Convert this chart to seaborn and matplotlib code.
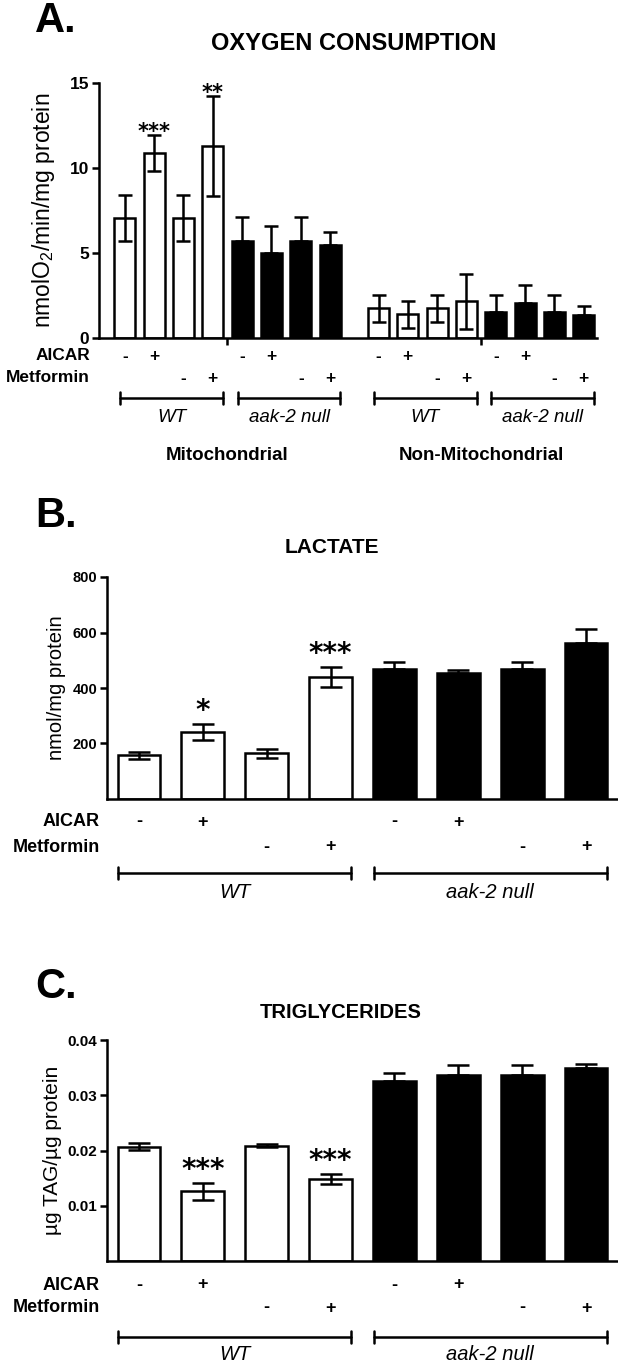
"""
plot.py
-------
Oxygen consumption, lactate and triglycerides in WT vs aak-2 null worms
treated with AICAR / Metformin. Saves out.png.
"""

import numpy as np
import pandas as pd
import matplotlib
matplotlib.use("Agg")
import matplotlib.pyplot as plt
import matplotlib.transforms as mtransforms
import seaborn as sns

sns.set_style("ticks")
plt.rcParams["font.family"] = ["Liberation Sans", "DejaVu Sans"]
plt.rcParams["mathtext.fontset"] = "custom"
plt.rcParams["mathtext.rm"] = "Liberation Sans"
plt.rcParams["mathtext.default"] = "regular"
for key in ["text.color", "axes.labelcolor", "axes.edgecolor",
            "xtick.color", "ytick.color"]:
    plt.rcParams[key] = "black"

# ---------- data ----------
genotypes = ["WT", "aak-2 null"]
aicar_signs = ["-", "+", "", ""]
metformin_signs = ["", "", "-", "+"]

# A. oxygen consumption (nmol O2/min/mg protein)
mito_wt_mean = [7.05, 10.9, 7.05, 11.3]
mito_wt_sem = [1.35, 1.05, 1.35, 2.95]
mito_aak_mean = [5.7, 5.0, 5.7, 5.5]
mito_aak_sem = [1.4, 1.6, 1.4, 0.75]
nonmito_wt_mean = [1.75, 1.4, 1.75, 2.15]
nonmito_wt_sem = [0.8, 0.8, 0.8, 1.6]
nonmito_aak_mean = [1.55, 2.05, 1.55, 1.35]
nonmito_aak_sem = [1.0, 1.05, 1.0, 0.55]
oxygen_stars = {1: "***", 3: "**"}

# B. lactate (nmol/mg protein)
lactate_wt_mean = [157, 242, 165, 440]
lactate_wt_sem = [13, 28, 16, 36]
lactate_aak_mean = [468, 454, 468, 562]
lactate_aak_sem = [26, 11, 26, 52]
lactate_stars = {1: "*", 3: "***"}

# C. triglycerides (ug TAG/ug protein)
tag_wt_mean = [0.0207, 0.0126, 0.0209, 0.0148]
tag_wt_sem = [0.0006, 0.0015, 0.0003, 0.0009]
tag_aak_mean = [0.0325, 0.0337, 0.0337, 0.0349]
tag_aak_sem = [0.0015, 0.0017, 0.0017, 0.0007]
tag_stars = {1: "***", 3: "***"}

W, H = 618, 1363
fig = plt.figure(figsize=(W / 100, H / 100), dpi=100)


def fx(px):
    return px / W


def fy(py):
    return 1 - py / H


def rect(left, top, right, bottom):
    return [fx(left), fy(bottom), fx(right - left), (bottom - top) / H]


LW = 1.8
palette = {"WT": "white", "aak-2 null": "black"}


def draw_bars(ax, x, means, sems, genos, width, capsize):
    df = pd.DataFrame({"x": x, "value": means, "genotype": genos})
    sns.barplot(data=df, x="x", y="value", hue="genotype", palette=palette,
                native_scale=True, dodge=False, width=width, saturation=1,
                edgecolor="black", linewidth=LW, legend=False, errorbar=None,
                ax=ax)
    lower = [s if g == "WT" else 0 for s, g in zip(sems, genos)]
    ax.errorbar(x, means, yerr=[lower, sems], fmt="none", ecolor="black",
                elinewidth=LW, capsize=capsize, capthick=LW, zorder=5)


def style_axes(ax, ylim, yticks, ticksize):
    ax.set_ylim(*ylim)
    ax.set_yticks(yticks)
    ax.set_xlabel("")
    ax.set_ylabel("")
    sns.despine(ax=ax)
    for s in ["left", "bottom"]:
        ax.spines[s].set_linewidth(LW)
    ax.tick_params(axis="y", length=5, width=LW, pad=2, labelsize=ticksize)
    for lab in ax.get_yticklabels():
        lab.set_fontweight("bold")


def treatment_rows(ax, x, y_aicar, y_met, right_px, size):
    tr = mtransforms.blended_transform_factory(ax.transData, fig.transFigure)
    fig.text(fx(right_px), fy(y_aicar), "AICAR", ha="right", va="center",
             fontsize=size, fontweight="bold")
    fig.text(fx(right_px), fy(y_met), "Metformin", ha="right", va="center",
             fontsize=size, fontweight="bold")
    for i, xi in enumerate(x):
        a = aicar_signs[i % 4]
        m = metformin_signs[i % 4]
        if a:
            ax.text(xi, fy(y_aicar), a, transform=tr, ha="center",
                    va="center", fontsize=size, fontweight="bold")
        if m:
            ax.text(xi, fy(y_met), m, transform=tr, ha="center",
                    va="center", fontsize=size, fontweight="bold")


def bracket(ax, x0, x1, y_line, y_label, label, size):
    tr = mtransforms.blended_transform_factory(ax.transData, fig.transFigure)
    ax.plot([x0, x1], [fy(y_line)] * 2, color="black", lw=LW,
            transform=tr, clip_on=False)
    for xe in (x0, x1):
        ax.plot([xe, xe], [fy(y_line - 6), fy(y_line + 6)], color="black",
                lw=LW, transform=tr, clip_on=False)
    ax.text((x0 + x1) / 2, fy(y_label), label, transform=tr, ha="center",
            va="center", fontsize=size, fontstyle="italic")


def stars(ax, x, means, sems, marks, size, offset):
    for i, s in marks.items():
        ax.annotate(s, (x[i], means[i] + sems[i]), xytext=(0, offset),
                    textcoords="offset points", ha="center", va="baseline",
                    fontsize=size, family="DejaVu Sans", fontweight="bold")


def panel_letter(letter, baseline_px):
    fig.text(fx(35), fy(baseline_px), letter, ha="left", va="baseline",
             fontsize=30, fontweight="bold")


# ---------- A. Oxygen consumption ----------
axA = fig.add_axes(rect(99, 83, 597, 338))
xA = [0, 1, 2, 3, 4, 5, 6, 7, 8.65, 9.65, 10.65, 11.65, 12.65, 13.65,
      14.65, 15.65]
meanA = mito_wt_mean + mito_aak_mean + nonmito_wt_mean + nonmito_aak_mean
semA = mito_wt_sem + mito_aak_sem + nonmito_wt_sem + nonmito_aak_sem
genoA = (["WT"] * 4 + ["aak-2 null"] * 4) * 2
draw_bars(axA, xA, meanA, semA, genoA, 0.72, 5)
style_axes(axA, (0, 15), [0, 5, 10, 15], 12.5)
axA.set_xlim(-0.88, 16.1)
axA.set_xticks([(xA[3] + xA[4]) / 2, (xA[11] + xA[12]) / 2])
axA.set_xticklabels([])
axA.tick_params(axis="x", length=5, width=LW)
stars(axA, xA, meanA, semA, oxygen_stars, 15, -2)
treatment_rows(axA, xA, 356, 378, 90, 12.5)
for k, g in enumerate(genotypes * 2):
    b = xA[4 * k:4 * k + 4]
    bracket(axA, b[0] - 0.15, b[-1] + 0.35, 398, 417, g, 13.5)
fig.text(fx(44), fy(210), "nmolO$_2$/min/mg protein", rotation=90,
         ha="center", va="center", fontsize=16.5)
trA = mtransforms.blended_transform_factory(axA.transData, fig.transFigure)
for xi, lab in zip(axA.get_xticks(), ["Mitochondrial", "Non-Mitochondrial"]):
    axA.text(xi, fy(455), lab, transform=trA, ha="center", va="center",
             fontsize=13.5, fontweight="bold")
fig.text(fx(354), fy(44), "OXYGEN CONSUMPTION", ha="center", va="center",
         fontsize=17, fontweight="bold")
panel_letter("A.", 32)

# ---------- B. Lactate ----------
x8 = list(range(8))
geno8 = ["WT"] * 4 + ["aak-2 null"] * 4
axB = fig.add_axes(rect(107, 577, 618, 799))
meanB = lactate_wt_mean + lactate_aak_mean
semB = lactate_wt_sem + lactate_aak_sem
draw_bars(axB, x8, meanB, semB, geno8, 0.67, 8)
style_axes(axB, (0, 800), [200, 400, 600, 800], 10.5)
axB.set_xlim(-0.5, 7.5)
axB.set_xticks([])
stars(axB, x8, meanB, semB, lactate_stars, 20, 3.5)
treatment_rows(axB, x8, 822, 847, 100, 13)
for k, g in enumerate(genotypes):
    bracket(axB, x8[4 * k] - 0.32, x8[4 * k + 3] + 0.32, 873, 893, g, 14.5)
fig.text(fx(56), fy(688), "nmol/mg protein", rotation=90, ha="center",
         va="center", fontsize=14.5)
fig.text(fx(332), fy(548), "LACTATE", ha="center", va="center",
         fontsize=15, fontweight="bold")
panel_letter("B.", 527)

# ---------- C. Triglycerides ----------
axC = fig.add_axes(rect(107, 1040, 618, 1261))
meanC = tag_wt_mean + tag_aak_mean
semC = tag_wt_sem + tag_aak_sem
draw_bars(axC, x8, meanC, semC, geno8, 0.67, 8)
style_axes(axC, (0, 0.04), [0.01, 0.02, 0.03, 0.04], 11)
axC.set_yticklabels(["0.01", "0.02", "0.03", "0.04"], fontweight="bold")
axC.set_xlim(-0.5, 7.5)
axC.set_xticks([])
stars(axC, x8, meanC, semC, tag_stars, 20, 3.5)
treatment_rows(axC, x8, 1285, 1308, 100, 13)
for k, g in enumerate(genotypes):
    bracket(axC, x8[4 * k] - 0.32, x8[4 * k + 3] + 0.32, 1337, 1355, g, 14.5)
fig.text(fx(53), fy(1150), "\u00b5g TAG/\u00b5g protein", rotation=90,
         ha="center", va="center", fontsize=15)
fig.text(fx(341), fy(1012), "TRIGLYCERIDES", ha="center", va="center",
         fontsize=14.5, fontweight="bold")
panel_letter("C.", 998)

fig.savefig("out.png", dpi=100)
